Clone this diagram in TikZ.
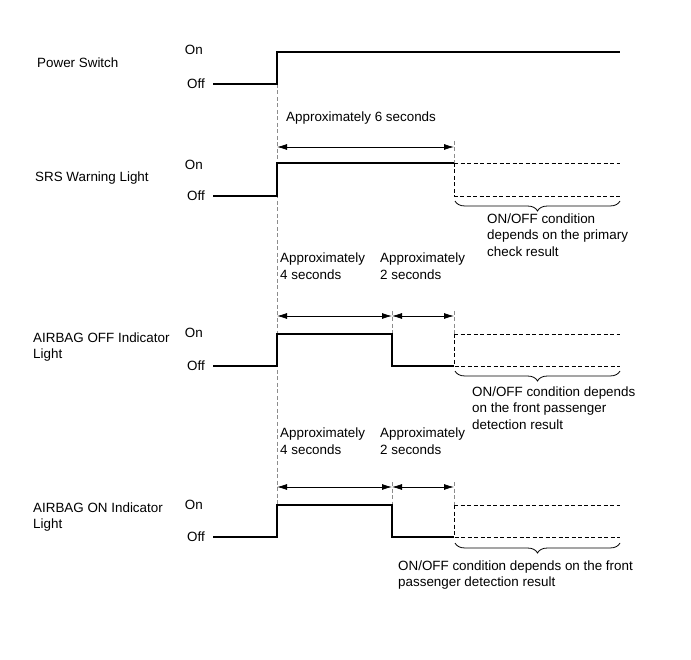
\documentclass[tikz,border=0pt]{standalone}
\usepackage{fontspec}
\setmainfont{Liberation Sans}
\usetikzlibrary{arrows.meta,positioning,decorations.pathreplacing}
\definecolor{SigBlack}{HTML}{000000}
\definecolor{GuideGray}{HTML}{8C8C8C}
\tikzset{
  sig/.style={line width=1.1pt,draw=SigBlack},
  sigopen/.style={line width=0.9pt,draw=SigBlack,dash pattern=on 4pt off 2.5pt},
  guide/.style={line width=0.7pt,draw=GuideGray,dash pattern=on 4pt off 2.5pt},
  span/.style={line width=0.8pt,{Latex[length=10pt,width=6pt]}-{Latex[length=10pt,width=6pt]}},
  lbl/.style={font=\fontsize{13.4}{16.5}\selectfont,inner sep=0pt,align=left},
  lvl/.style={lbl,anchor=east},
  brc/.style={line width=0.8pt,decorate,decoration={brace,mirror,amplitude=10pt}}
}
\begin{document}
\begin{tikzpicture}[x=1pt,y=-1pt]
\useasboundingbox (0,0) rectangle (691,660);
\node[lbl,anchor=west] (pwname) at (37,63) {Power Switch};
\node[lvl] (pwon) at (203,50) {On};
\node[lvl] (pwoff) at (205,84) {Off};
\draw[guide] (277,84) -- (277,537);
\draw[sig] (213,84) -- (277,84) -- (277,52) -- (620,52);

\node[lbl,anchor=west] (srsname) at (35,178) {SRS Warning Light};
\node[lvl] (srson) at (203,165) {On};
\node[lvl] (srsoff) at (205,196) {Off};
\node[lbl,anchor=west] (srstime) at (286,118) {Approximately 6 seconds};
\coordinate (srsa) at (277,147);
\coordinate (srsb) at (454,147);
\draw[guide] (454,141) -- (454,163);
\draw[span] (srsa) -- (srsb);
\draw[sig] (213,196) -- (277,196) -- (277,163) -- (454,163);
\draw[sigopen] (454,163) -- (620,163) (454,163) -- (454,196) -- (620,196);
\draw[brc] (455,201) -- (620,201);
\node[lbl,anchor=west] (srsnote) at (487,235) {ON/OFF condition\\depends on the primary\\check result};

\node[lbl,anchor=west] (offname) at (33,347) {AIRBAG OFF Indicator\\Light};
\node[lvl] (offon) at (203,333) {On};
\node[lvl] (offoff) at (205,366) {Off};
\node[lbl,anchor=west] (offfour) at (280,266) {Approximately\\4 seconds};
\node[lbl,anchor=west] (offtwo) at (380,266) {Approximately\\2 seconds};
\coordinate (offa) at (277,316);
\coordinate (offb) at (392,316);
\coordinate (offc) at (454,316);
\draw[guide] (392,311) -- (392,334) (454,311) -- (454,334);
\draw[span] (offa) -- (offb);
\draw[span] (offb) -- (offc);
\draw[sig] (213,366) -- (277,366) -- (277,334) -- (392,334) -- (392,366) -- (454,366);
\draw[sigopen] (454,334) -- (620,334) (454,334) -- (454,366) -- (620,366);
\draw[brc] (455,371) -- (620,371);
\node[lbl,anchor=west] (offnote) at (472,408) {ON/OFF condition depends\\on the front passenger\\detection result};

\node[lbl,anchor=west] (onname) at (33,517) {AIRBAG ON Indicator\\Light};
\node[lvl] (onon) at (203,505) {On};
\node[lvl] (onoff) at (205,537) {Off};
\node[lbl,anchor=west] (onfour) at (280,441) {Approximately\\4 seconds};
\node[lbl,anchor=west] (ontwo) at (380,441) {Approximately\\2 seconds};
\coordinate (ona) at (277,487);
\coordinate (onb) at (392,487);
\coordinate (onc) at (454,487);
\draw[guide] (392,482) -- (392,505) (454,482) -- (454,505);
\draw[span] (ona) -- (onb);
\draw[span] (onb) -- (onc);
\draw[sig] (213,537) -- (277,537) -- (277,505) -- (392,505) -- (392,537) -- (454,537);
\draw[sigopen] (454,505) -- (620,505) (454,505) -- (454,537) -- (620,537);
\draw[brc] (455,543) -- (620,543);
\node[lbl,anchor=west] (onnote) at (398,575) {ON/OFF condition depends on the front\\passenger detection result};
\end{tikzpicture}
\end{document}
